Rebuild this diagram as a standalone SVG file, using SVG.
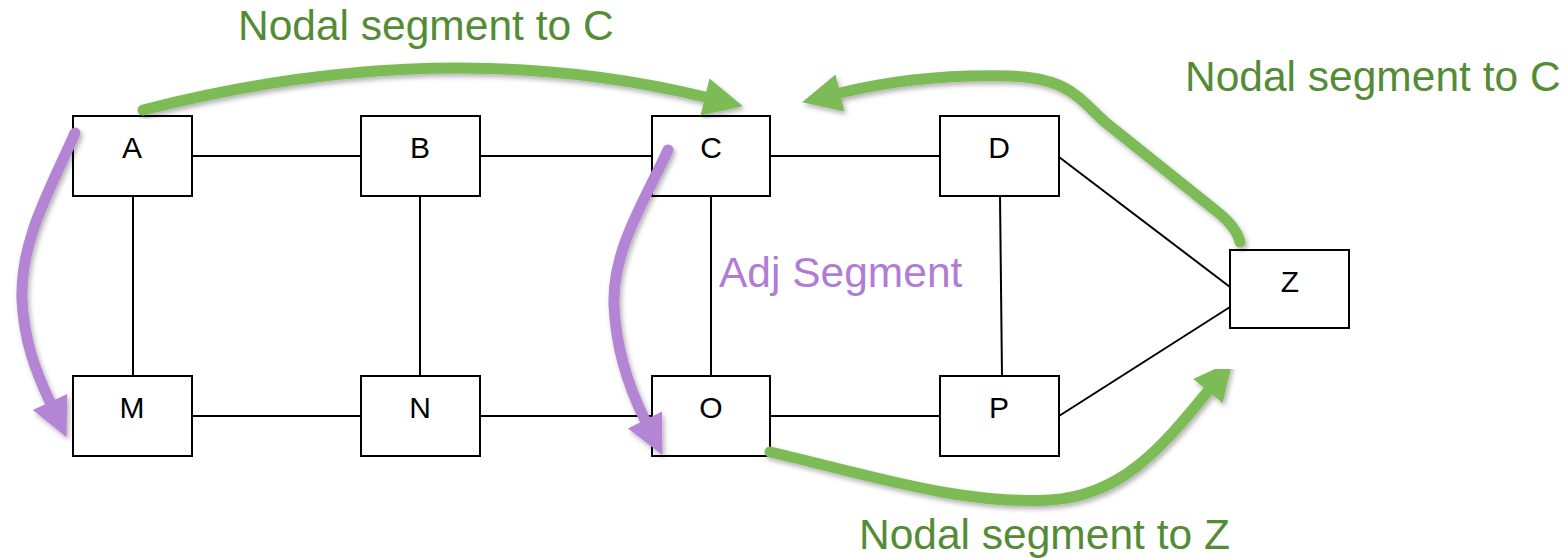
<svg xmlns="http://www.w3.org/2000/svg" width="1567" height="558" viewBox="0 0 1567 558">
  <style>
    .box { fill: #ffffff; stroke: #000000; stroke-width: 2; }
    .lbl { font-family: "Liberation Sans", Arial, sans-serif; font-size: 30px; fill: #000000; text-anchor: middle; }
    .link { stroke: #000000; stroke-width: 2; fill: none; }
    .green { stroke: #7cbb56; stroke-width: 11; fill: none; stroke-linecap: round; filter: url(#shadow); }
    .purple { stroke: #b485d5; stroke-width: 11; fill: none; stroke-linecap: round; filter: url(#shadow); }
    .gtxt { font-family: "Liberation Sans", Arial, sans-serif; font-size: 42.5px; fill: #548c36; }
    .ptxt { font-family: "Liberation Sans", Arial, sans-serif; font-size: 42.5px; fill: #b07cd6; }
  </style>
  <defs>
    <filter id="shadow" x="-20%" y="-20%" width="140%" height="140%">
      <feDropShadow dx="2" dy="3" stdDeviation="2.5" flood-color="#000000" flood-opacity="0.3"/>
    </filter>
    <marker id="headG" markerUnits="userSpaceOnUse" markerWidth="44" markerHeight="44" viewBox="-2 -22 44 44" refX="0" refY="0" orient="auto">
      <path d="M0,-19 L39,0 L0,19 z" fill="#7cbb56"/>
    </marker>
    <marker id="headP" markerUnits="userSpaceOnUse" markerWidth="44" markerHeight="44" viewBox="-2 -22 44 44" refX="0" refY="0" orient="auto">
      <path d="M0,-19 L39,0 L0,19 z" fill="#b485d5"/>
    </marker>
  </defs>

  <rect width="1567" height="558" fill="#ffffff"/>

  <!-- links between nodes -->
  <g id="links">
    <line class="link" x1="192" y1="156" x2="361" y2="156"/>
    <line class="link" x1="480" y1="156" x2="652" y2="156"/>
    <line class="link" x1="770" y1="156" x2="940" y2="156"/>
    <line class="link" x1="192" y1="416" x2="361" y2="416"/>
    <line class="link" x1="480" y1="416" x2="652" y2="416"/>
    <line class="link" x1="770" y1="416" x2="940" y2="416"/>
    <line class="link" x1="133" y1="196" x2="133" y2="376"/>
    <line class="link" x1="420" y1="196" x2="420" y2="376"/>
    <line class="link" x1="711" y1="196" x2="711" y2="376"/>
    <line class="link" x1="1000" y1="196" x2="1002" y2="376"/>
    <line class="link" x1="1059" y1="157" x2="1230" y2="287"/>
    <line class="link" x1="1059" y1="416" x2="1230" y2="307"/>
  </g>

  <!-- nodes -->
  <g id="node-A"><rect class="box" x="73" y="116" width="119" height="80"/><text class="lbl" x="132" y="158">A</text></g>
  <g id="node-B"><rect class="box" x="361" y="116" width="119" height="80"/><text class="lbl" x="420" y="158">B</text></g>
  <g id="node-C"><rect class="box" x="652" y="116" width="118" height="80"/><text class="lbl" x="711" y="158">C</text></g>
  <g id="node-D"><rect class="box" x="940" y="116" width="119" height="80"/><text class="lbl" x="999" y="158">D</text></g>
  <g id="node-M"><rect class="box" x="73" y="376" width="119" height="80"/><text class="lbl" x="132" y="418">M</text></g>
  <g id="node-N"><rect class="box" x="361" y="376" width="119" height="80"/><text class="lbl" x="420" y="418">N</text></g>
  <g id="node-O"><rect class="box" x="652" y="376" width="118" height="80"/><text class="lbl" x="711" y="418">O</text></g>
  <g id="node-P"><rect class="box" x="940" y="376" width="119" height="80"/><text class="lbl" x="999" y="418">P</text></g>
  <g id="node-Z"><rect class="box" x="1230" y="250" width="119" height="78"/><text class="lbl" x="1290" y="292">Z</text></g>

  <!-- segment arrows -->
  <g id="segments">
    <path class="green" d="M143,110 C330,62 520,52 705,97" marker-end="url(#headG)"/>
    <path class="green" d="M1240,242 Q1236,226 1215,210 L1105,122 C1080,100 1070,78 1010,76 C940,74 885,82 840,93" marker-end="url(#headG)"/>
    <path class="green" d="M770,452 C870,475 960,505 1050,500 C1120,496 1160,450 1208,391" marker-end="url(#headG)"/>
    <path class="purple" d="M75,133 C50,190 20,240 22,300 C24,340 35,370 50,402" marker-end="url(#headP)"/>
    <path class="purple" d="M668,150 C645,200 612,250 614,305 C616,350 630,390 645,420" marker-end="url(#headP)"/>
  </g>

  <!-- segment labels -->
  <g id="labels">
    <text class="gtxt" x="238" y="40">Nodal segment to C</text>
    <text class="gtxt" x="1185" y="91">Nodal segment to C</text>
    <text class="gtxt" x="859" y="549">Nodal segment to Z</text>
    <text class="ptxt" x="719" y="287">Adj Segment</text>
  </g>
</svg>
